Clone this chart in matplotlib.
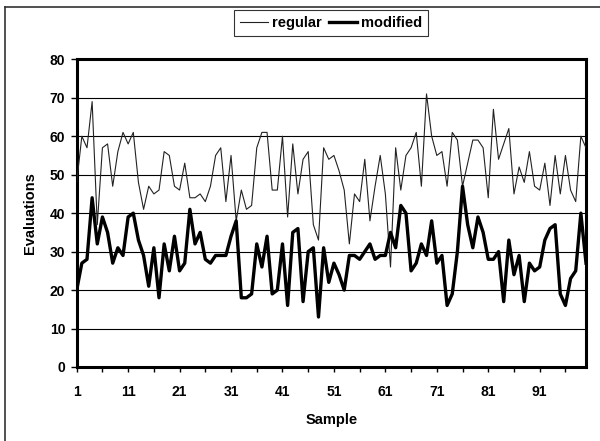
import matplotlib
matplotlib.use("Agg")
import matplotlib.pyplot as plt
from matplotlib.lines import Line2D

samples = list(range(1, 101))
regular = [48, 60, 57, 69, 37, 57, 58, 47, 56, 61,
           58, 61, 48, 41, 47, 45, 46, 56, 55, 47,
           46, 53, 44, 44, 45, 43, 47, 55, 57, 43,
           55, 38, 46, 41, 42, 57, 61, 61, 46, 46,
           60, 39, 58, 45, 54, 56, 37, 33, 57, 54,
           55, 51, 46, 32, 45, 43, 54, 38, 47, 55,
           45, 26, 57, 46, 55, 57, 61, 47, 71, 60,
           55, 56, 47, 61, 59, 47, 53, 59, 59, 57,
           44, 67, 54, 58, 62, 45, 52, 48, 56, 47,
           46, 53, 42, 55, 45, 55, 46, 43, 60, 57]
modified = [20, 27, 28, 44, 32, 39, 35, 27, 31, 29,
            39, 40, 33, 29, 21, 31, 18, 32, 25, 34,
            25, 27, 41, 32, 35, 28, 27, 29, 29, 29,
            34, 38, 18, 18, 19, 32, 26, 34, 19, 20,
            32, 16, 35, 36, 17, 30, 31, 13, 31, 22,
            27, 24, 20, 29, 29, 28, 30, 32, 28, 29,
            29, 35, 31, 42, 40, 25, 27, 32, 29, 38,
            27, 29, 16, 19, 30, 47, 37, 31, 39, 35,
            28, 28, 30, 17, 33, 24, 29, 17, 27, 25,
            26, 33, 36, 37, 19, 16, 23, 25, 40, 27]
x_tick_labels = [str(v) for v in range(1, 101, 10)]
y_ticks = list(range(0, 81, 10))

plt.rcParams['font.family'] = ['Liberation Sans', 'DejaVu Sans']
plt.rcParams['font.weight'] = 'bold'

fig = plt.figure(figsize=(6.0, 4.41), dpi=100)
ax = fig.add_axes([76.7/600, 1-367/441, (586-76.7)/600, (367-59.3)/441])

# figure border (left and top only, like the cropped original)
fig.add_artist(Line2D([5/600, 5/600], [0, 1-7/441], transform=fig.transFigure,
                      color='#333333', lw=1.2))
fig.add_artist(Line2D([5/600, 1], [1-7/441, 1-7/441], transform=fig.transFigure,
                      color='#333333', lw=1.2))

ax.plot(samples, regular, color='#222222', lw=0.8, label='regular', zorder=3)
ax.plot(samples, modified, color='black', lw=2.4, label='modified', zorder=4)

ax.set_xlim(1, 100)
ax.set_ylim(0, 80)
ax.set_yticks(y_ticks)
ax.set_yticklabels([str(v) for v in y_ticks])
ax.set_xticks(list(range(1, 101, 5)))
all_x = [str(v) for v in range(1, 101, 5)]
ax.set_xticklabels([lbl if lbl in x_tick_labels else '' for lbl in all_x])
ax.tick_params(axis='y', direction='out', length=4.3, width=1, color='black',
               labelsize=10, pad=4)
ax.tick_params(axis='x', direction='out', length=3.6, width=1, color='black',
               labelsize=10, pad=9.5)
for lab in ax.get_xticklabels() + ax.get_yticklabels():
    lab.set_fontweight('bold')

ax.yaxis.grid(True, color='black', lw=0.8)
ax.set_axisbelow(True)
for s in ax.spines.values():
    s.set_color('black')
    s.set_linewidth(2.2)

ax.set_xlabel('Sample', fontsize=10.5, fontweight='bold', labelpad=10)
ax.set_ylabel('Evaluations', fontsize=10.5, fontweight='bold', labelpad=9)

leg = fig.legend(loc='center', bbox_to_anchor=(331/600, 1-23/441), ncol=2,
                 frameon=True, fancybox=False, fontsize=10.5, handlelength=1.9,
                 handletextpad=0.3, columnspacing=0.5, borderpad=0.4,
                 edgecolor='black', borderaxespad=0)
leg.get_frame().set_linewidth(0.8)
for t in leg.get_texts():
    t.set_fontweight('bold')

fig.savefig('out.png', dpi=100, facecolor='white')
